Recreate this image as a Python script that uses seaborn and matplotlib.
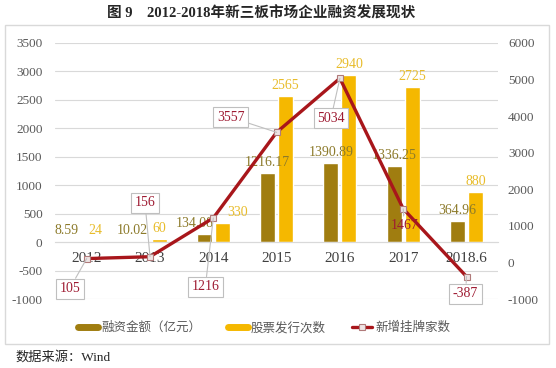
import matplotlib.pyplot as plt
import numpy as np
import pandas as pd
import seaborn as sns
from matplotlib.lines import Line2D
from matplotlib.patches import Rectangle

# ---- data ----
years = ["2012", "2013", "2014", "2015", "2016", "2017", "2018.6"]
financing = [8.59, 10.02, 134.08, 1216.17, 1390.89, 1336.25, 364.96]
issuances = [24, 60, 330, 2565, 2940, 2725, 880]
new_listings = [105, 156, 1216, 3557, 5034, 1467, -387]

series_names = ["融资金额（亿元）", "股票发行次数", "新增挂牌家数"]
left_ticks = list(range(-1000, 3501, 500))
right_ticks = list(range(-1000, 6001, 1000))

title = "图 9    2012-2018年新三板市场企业融资发展现状"
source = "数据来源：Wind"

# ---- style ----
DARK = "#A07D10"
GOLD = "#F5B800"
RED = "#A8161B"
DARK_TXT = "#8C7A2A"
GOLD_TXT = "#E8BC2A"
LBL_RED = "#9E1B32"
GRID = "#D9D9D9"

# horizontal nudges (points) of the bar value labels, as in the source chart
bar_label_dx = [[-8, -6.5, -7, 0, 0, 0, 0], [0, 0, 11, 0, 0, 0, 0]]
# offsets (pixels) of the line value boxes from their points
label_offsets = [(-17, -30), (-5, 54), (-8, -69), (-46, 15), (-9, -40), (1, -17), (-1, -17)]
boxed = [True, True, True, True, True, False, True]

sns.set_theme(style="white")
plt.rcParams["font.family"] = ["Liberation Serif", "Noto Sans CJK SC"]
plt.rcParams["axes.unicode_minus"] = False

fig = plt.figure(figsize=(5.56, 3.68), dpi=100)
ax = fig.add_axes([0.099, 0.1875, 0.797, 0.6957])

df = pd.DataFrame({
    "year": years * 2,
    "series": [series_names[0]] * len(years) + [series_names[1]] * len(years),
    "value": financing + issuances,
})

sns.barplot(data=df, x="year", y="value", hue="series", palette=[DARK, GOLD],
            saturation=1, width=0.57, gap=0.17, legend=False, ax=ax)

for cont, vals, col, nudges in zip(ax.containers, [financing, issuances],
                                   [DARK_TXT, GOLD_TXT], bar_label_dx):
    texts = ax.bar_label(cont, labels=[f"{v:g}" for v in vals], padding=3,
                         color=col, fontsize=10)
    for t, dx in zip(texts, nudges):
        t.xyann = (dx, t.xyann[1])

ax.set_ylim(-1000, 3500)
ax.set_yticks(left_ticks)
ax.set_xlim(-0.5, len(years) - 0.5)
ax.set_xlabel("")
ax.set_ylabel("")
ax.grid(axis="y", color=GRID, lw=0.8)
ax.set_axisbelow(True)
for s in ["top", "left", "right"]:
    ax.spines[s].set_visible(False)
ax.spines["bottom"].set_position(("data", 0))
ax.spines["bottom"].set_color(GRID)
ax.spines["bottom"].set_linewidth(0.8)
ax.tick_params(axis="x", length=0, pad=7, labelsize=11, labelcolor="#404040")
ax.tick_params(axis="y", length=0, pad=9, labelsize=9.5, labelcolor="#595959")

# ---- line on right axis ----
ax2 = ax.twinx()
sns.lineplot(x=np.arange(len(years)), y=new_listings, ax=ax2, color=RED, lw=2.4,
             marker="s", markersize=5, markerfacecolor="#EEE4E4",
             markeredgecolor="#B07A7A", markeredgewidth=0.8, legend=False)
ax2.set_ylim(-1000, 6000)
ax2.set_yticks(right_ticks)
ax2.set_xlim(-0.5, len(years) - 0.5)
ax2.set_ylabel("")
for s in ax2.spines.values():
    s.set_visible(False)
ax2.tick_params(axis="y", length=0, pad=7, labelsize=9.5, labelcolor="#595959")

for i, v in enumerate(new_listings):
    dx, dy = label_offsets[i]
    bbox = dict(boxstyle="square,pad=0.25", fc="white", ec="#BFBFBF", lw=0.8) if boxed[i] else None
    ax2.annotate(str(v), xy=(i, v), xytext=(dx, dy), textcoords="offset pixels",
                 ha="center", va="center", fontsize=10, color=LBL_RED, bbox=bbox,
                 arrowprops=dict(arrowstyle="-", color="#BFBFBF", lw=0.8,
                                 shrinkA=0, shrinkB=0))

# ---- legend, title, frame ----
handles = [
    Line2D([], [], color=DARK, lw=5),
    Line2D([], [], color=GOLD, lw=5),
    Line2D([], [], color=RED, lw=2.4, marker="s", markersize=5,
           markerfacecolor="#EEE4E4", markeredgecolor="#B07A7A", markeredgewidth=0.8),
]
fig.legend(handles, series_names, loc="center", bbox_to_anchor=(0.475, 0.109), ncol=3,
           frameon=False, fontsize=9, handlelength=1.6, columnspacing=2.1,
           handletextpad=0.25, labelcolor="#595959")

fig.text(0.469, 0.963, title, ha="center", va="center", fontsize=10.5, fontweight="bold")
fig.text(0.027, 0.03, source, ha="left", va="center", fontsize=9.5)

fig.add_artist(Rectangle((5 / 556, 1 - 344 / 368), 544 / 556, 319 / 368,
                         transform=fig.transFigure, fill=False, ec=GRID, lw=1))

fig.savefig("out.png", dpi=100)
